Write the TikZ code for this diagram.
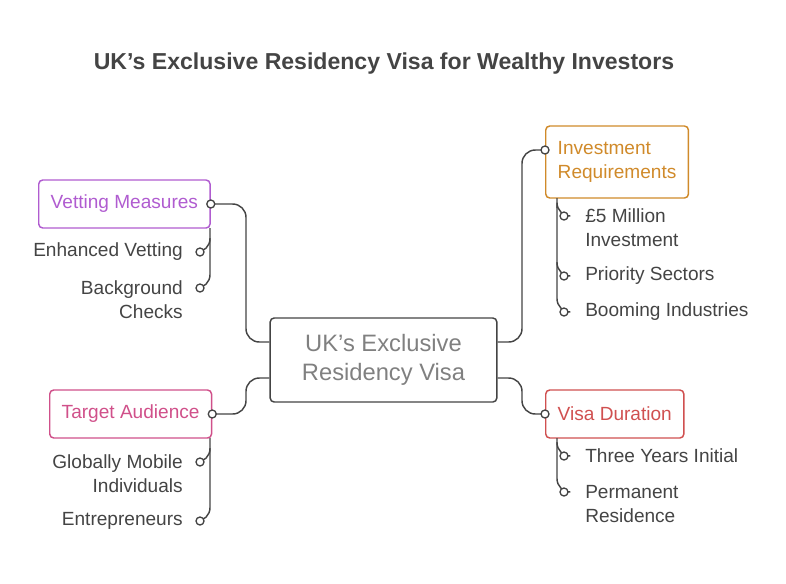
\documentclass[tikz,border=0pt]{standalone}
\usepackage{fontspec}
\setmainfont{Liberation Sans}
\usetikzlibrary{positioning}
\newcommand\apos{\char"0027\relax}
\definecolor{linegray}{HTML}{444444}
\definecolor{vetcol}{HTML}{B05CD0}
\definecolor{audcol}{HTML}{D0508A}
\definecolor{invcol}{HTML}{D08A2A}
\definecolor{durcol}{HTML}{D05050}
\tikzset{
  topic/.style={draw=#1, text=#1, line width=1.1pt, rounded corners=3pt, font=\fontsize{14.3}{17.5}\selectfont, inner xsep=9pt, inner ysep=0pt, align=left, anchor=west},
  leaf/.style={text=linegray, font=\fontsize{14.3}{18}\selectfont, inner sep=0pt},
  link/.style={draw=linegray, line width=1.1pt, rounded corners=10pt},
  knob/.style={circle, draw=linegray, fill=white, line width=1pt, inner sep=0pt, minimum size=6pt},
}
\begin{document}
\begin{tikzpicture}[x=0.75pt,y=-0.75pt]
\useasboundingbox (0,0) rectangle (786,583);

\node[font=\bfseries\fontsize{17.3}{20}\selectfont, text=linegray] (title) at (384,64) {UK\apos s Exclusive Residency Visa for Wealthy Investors};

% centre
\node[draw=linegray, line width=1.1pt, rounded corners=3pt, minimum width=170pt, minimum height=63pt, text=gray, align=center, font=\fontsize{17.8}{22}\selectfont] (visa) at (383.5,360) {UK\apos s Exclusive\\Residency Visa};

% topics
\node[topic=vetcol, minimum height=36pt] (vetting) at (38,204) {Vetting Measures};
\node[topic=audcol, minimum height=36pt] (audience) at (49,414) {Target Audience};
\node[topic=invcol, minimum height=54pt] (invest) at (545,162) {Investment\\Requirements};
\node[topic=durcol, minimum height=36pt] (duration) at (545,414) {Visa Duration};

% leaves
\node[leaf, anchor=east] (enhanced) at (183,252) {Enhanced Vetting};
\node[leaf, anchor=east, align=right] (background) at (183,300) {Background\\Checks};
\node[leaf, anchor=east, align=right] (mobile) at (183,474) {Globally Mobile\\Individuals};
\node[leaf, anchor=east] (entre) at (183,521) {Entrepreneurs};
\node[leaf, anchor=west, align=left] (million) at (585,228) {£5 Million\\Investment};
\node[leaf, anchor=west] (priority) at (585,276) {Priority Sectors};
\node[leaf, anchor=west] (booming) at (585,312) {Booming Industries};
\node[leaf, anchor=west] (three) at (585,456) {Three Years Initial};
\node[leaf, anchor=west, align=left] (permanent) at (585,504) {Permanent\\Residence};

% branches to centre
\draw[link] (vetting.east) -| (246,342) -- (visa.west |- 0,342);
\draw[link] (audience.east) -| (246,378) -- (visa.west |- 0,378);
\draw[link] (invest.west |- 0,150) -| (522,342) -- (visa.east |- 0,342);
\draw[link] (duration.west) -| (522,378) -- (visa.east |- 0,378);

% leaf links
\draw[link] (210,228) -- (210,288) -- (200,288);
\draw[link] (210,238) |- (200,252);
\draw[link] (210,438) -- (210,521) -- (200,521);
\draw[link] (210,448) |- (200,462);
\draw[link] (557,198) -- (557,312) -- (564,312);
\draw[link] (557,208) |- (564,216);
\draw[link] (557,262) |- (564,276);
\draw[link] (557,438) -- (557,492) -- (564,492);
\draw[link] (557,442) |- (564,456);

% knobs
\foreach \p in {(vetting.east),(audience.east),(545,150),(duration.west),(200,252),(200,288),(200,462),(200,521),(564,216),(564,276),(564,312),(564,456),(564,492)}
  \node[knob] at \p {};
\end{tikzpicture}
\end{document}
